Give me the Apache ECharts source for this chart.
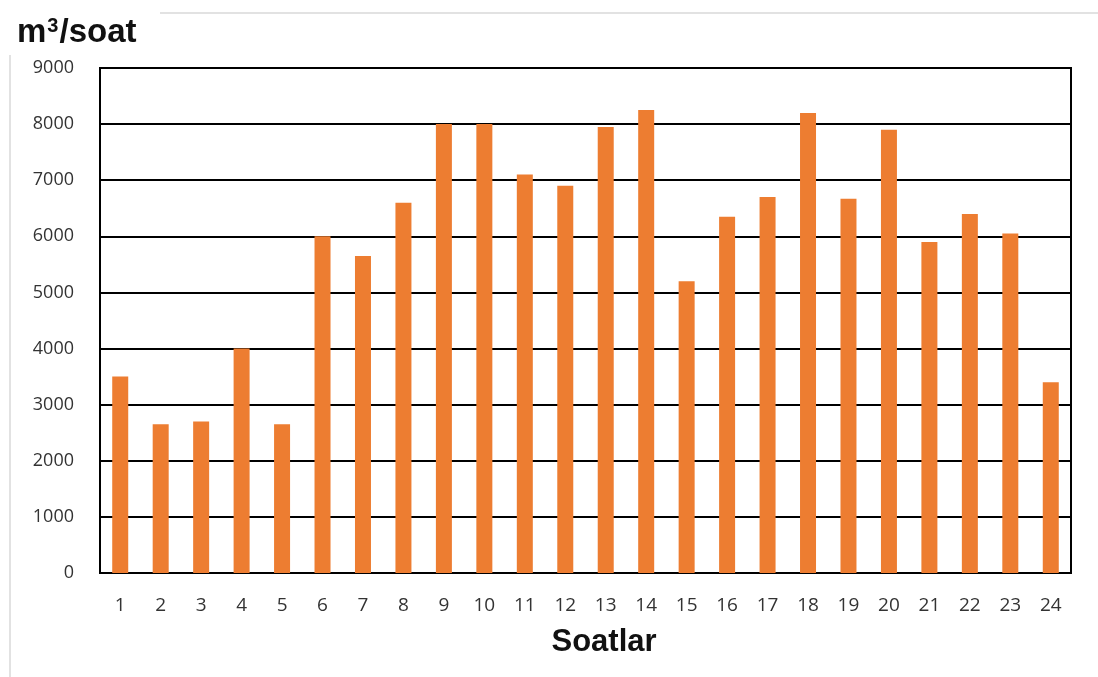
<!DOCTYPE html>
<html>
<head>
<meta charset="utf-8">
<script src="https://cdn.jsdelivr.net/npm/echarts@6/dist/echarts.min.js"></script>
<style>
  html, body { margin: 0; padding: 0; background: #fff; }
  #chart { width: 1098px; height: 677px; }
</style>
</head>
<body>
<div id="chart"></div>
<script>
// Hourly water flow, m³ per hour
const hours = ['1','2','3','4','5','6','7','8','9','10','11','12','13','14','15','16','17','18','19','20','21','22','23','24'];
const flow = [3500, 2650, 2700, 4000, 2650, 6000, 5650, 6600, 8000, 8000, 7100, 6900, 7950, 8250, 5200, 6350, 6700, 8200, 6670, 7900, 5900, 6400, 6050, 3400];
const yTicks = { min: 0, max: 9000, interval: 1000 };

const chart = echarts.init(document.getElementById('chart'));
const font = 'Open Sans, Liberation Sans, sans-serif';
const boldFont = 'Liberation Sans, Arial, sans-serif';

chart.setOption({
  animation: false,
  backgroundColor: '#fff',
  graphic: [
    { type: 'rect', shape: { x: 160, y: 12, width: 938, height: 2 }, style: { fill: '#e2e2e2' }, silent: true },
    { type: 'rect', shape: { x: 9, y: 55, width: 2, height: 622 }, style: { fill: '#e2e2e2' }, silent: true },
    {
      type: 'text', left: 17, top: 16,
      style: {
        text: 'm{sup|3}/soat',
        font: 'bold 33px ' + boldFont,
        fill: '#111',
        rich: { sup: { fontSize: 20, fontWeight: 'bold', fontFamily: boldFont, fill: '#111', verticalAlign: 'top', padding: [0, 1, 13, 1] } }
      }
    },
    // horizontal axis title
    {
      type: 'text', x: 604, y: 642,
      style: {
        text: 'Soatlar', align: 'center', verticalAlign: 'middle',
        font: 'bold 31px ' + boldFont, fill: '#111'
      }
    }
  ],
  grid: {
    left: 100, right: 27, top: 68, bottom: 104,
    show: true, borderColor: '#000', borderWidth: 2, backgroundColor: 'transparent'
  },
  xAxis: {
    type: 'category',
    data: hours,
    axisLine: { lineStyle: { color: '#000', width: 2 } },
    axisTick: { show: false },
    axisLabel: { color: '#333', fontSize: 19, fontFamily: font, margin: 23 }
  },
  yAxis: {
    type: 'value',
    min: yTicks.min, max: yTicks.max, interval: yTicks.interval,
    axisLine: { show: false },
    axisTick: { show: false },
    axisLabel: { color: '#333', fontSize: 18, fontFamily: font, margin: 26, formatter: v => String(v) },
    splitLine: { lineStyle: { color: '#000', width: 2 } }
  },
  series: [{
    type: 'bar',
    data: flow,
    barWidth: 16,
    itemStyle: { color: '#ED7D31' }
  }]
});
</script>
</body>
</html>
